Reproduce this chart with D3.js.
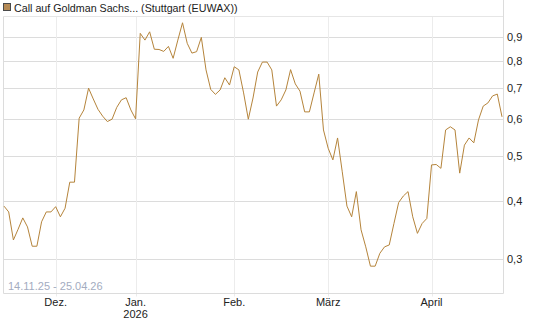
<!DOCTYPE html>
<html>
<head>
<meta charset="utf-8">
<script src="https://cdn.jsdelivr.net/npm/d3@7/dist/d3.min.js"></script>
<style>
  html, body { margin: 0; padding: 0; background: #fff; }
  svg { display: block; font-family: "Liberation Sans", Arial, sans-serif; }
</style>
</head>
<body>
<svg id="chart" width="545" height="327"></svg>
<script>
// ---- data ----
const title = "Call auf Goldman Sachs... (Stuttgart (EUWAX))";
const rangeLabel = "14.11.25 - 25.04.26";
const startDate = "2025-11-14";
const endDate = "2026-04-24";
const holidays = ["2025-12-24","2025-12-25","2025-12-26","2025-12-29","2025-12-30","2025-12-31","2026-01-01","2026-04-03","2026-04-06"];
const monthLabels = ["Dez.", "Jan.", "Feb.", "März", "April"];
const yearLabel = { month: "Jan.", text: "2026" };
const yTicks = [0.3, 0.4, 0.5, 0.6, 0.7, 0.8, 0.9];
const values = [
  0.390, 0.379, 0.330, 0.348, 0.368, 0.352, 0.320, 0.320, 0.361, 0.379,
  0.379, 0.389, 0.370, 0.386, 0.439, 0.439, 0.602, 0.627, 0.698, 0.662,
  0.629, 0.608, 0.592, 0.599, 0.635, 0.659, 0.666, 0.627, 0.600, 0.915,
  0.885, 0.922, 0.846, 0.845, 0.837, 0.858, 0.809, 0.885, 0.964, 0.871,
  0.830, 0.836, 0.897, 0.764, 0.694, 0.677, 0.692, 0.735, 0.709, 0.776,
  0.764, 0.682, 0.599, 0.665, 0.756, 0.794, 0.794, 0.764, 0.639, 0.659,
  0.692, 0.765, 0.713, 0.688, 0.621, 0.621, 0.682, 0.748, 0.568, 0.519,
  0.490, 0.546, 0.462, 0.390, 0.370, 0.419, 0.347, 0.319, 0.290, 0.290,
  0.309, 0.319, 0.322, 0.358, 0.397, 0.410, 0.419, 0.370, 0.341, 0.358,
  0.367, 0.478, 0.479, 0.470, 0.568, 0.577, 0.568, 0.459, 0.527, 0.546,
  0.533, 0.597, 0.639, 0.649, 0.672, 0.678, 0.606
];

// ---- trading-day calendar ----
const parse = d3.timeParse("%Y-%m-%d");
const fmt = d3.timeFormat("%Y-%m-%d");
const hol = new Set(holidays);
const dates = d3.timeDay.range(parse(startDate), d3.timeDay.offset(parse(endDate), 1))
  .filter(d => d.getDay() !== 0 && d.getDay() !== 6 && !hol.has(fmt(d)));
const data = values.map((v, i) => ({ i, date: dates[i], v }));

// month starts (first trading day of each new month)
const monthTicks = [];
data.forEach((d, k) => {
  if (k > 0 && d.date.getMonth() !== data[k - 1].date.getMonth()) monthTicks.push(d.i);
});

// ---- layout ----
const frame = { left: 3.5, right: 503.5, top: 16.5, bottom: 293.5 };
const svg = d3.select("#chart");

const x = d3.scaleLinear().domain([0, values.length - 1]).range([4, 502]);
const y = d3.scaleLog().domain([0.3, 0.9]).range([259.3, 36.7]);

// title / legend
svg.append("rect").attr("x", 3.5).attr("y", 3.5).attr("width", 7).attr("height", 7)
  .attr("fill", "#b58a55").attr("stroke", "#4a4a4a").attr("stroke-width", 1);
svg.append("text").attr("x", 14).attr("y", 12).attr("font-size", 10.7).attr("fill", "#222").text(title);

// horizontal grid
svg.append("g").selectAll("line").data(yTicks).join("line")
  .attr("x1", frame.left).attr("x2", frame.right)
  .attr("y1", d => Math.round(y(d)) + 0.5).attr("y2", d => Math.round(y(d)) + 0.5)
  .attr("stroke", "#dcdcdc").attr("stroke-width", 1);

// vertical grid at month starts
svg.append("g").selectAll("line").data(monthTicks).join("line")
  .attr("x1", d => Math.round(x(d)) + 0.5).attr("x2", d => Math.round(x(d)) + 0.5)
  .attr("y1", frame.top).attr("y2", frame.bottom + 3)
  .attr("stroke", "#ececec").attr("stroke-width", 1);

// frame
svg.append("line").attr("x1", frame.left).attr("x2", frame.right).attr("y1", frame.top).attr("y2", frame.top)
  .attr("stroke", "#e6e6e6");
svg.append("line").attr("x1", frame.left).attr("x2", frame.left).attr("y1", frame.top).attr("y2", frame.bottom)
  .attr("stroke", "#dcdcdc");
svg.append("line").attr("x1", frame.right).attr("x2", frame.right).attr("y1", 0).attr("y2", frame.bottom)
  .attr("stroke", "#dcdcdc");
svg.append("line").attr("x1", frame.left).attr("x2", frame.right).attr("y1", frame.bottom).attr("y2", frame.bottom)
  .attr("stroke", "#dcdcdc");

// range label
svg.append("text").attr("x", 8).attr("y", 290).attr("font-size", 11).attr("fill", "#a3acbf").text(rangeLabel);

// x labels
svg.append("g").selectAll("text").data(monthTicks).join("text")
  .attr("x", d => x(d)).attr("y", 306).attr("text-anchor", "middle")
  .attr("font-size", 11).attr("fill", "#222")
  .text((d, k) => monthLabels[k]);
const yearIdx = monthTicks[monthLabels.indexOf(yearLabel.month)];
svg.append("text").attr("x", x(yearIdx)).attr("y", 318).attr("text-anchor", "middle")
  .attr("font-size", 11).attr("fill", "#222").text(yearLabel.text);

// y labels
const fmtY = v => d3.format(".1f")(v).replace(".", ",");
svg.append("g").selectAll("text").data(yTicks).join("text")
  .attr("x", 507).attr("y", d => y(d) + 4).attr("font-size", 11).attr("fill", "#222")
  .text(fmtY);

// line
const line = d3.line().x(d => x(d.i)).y(d => y(d.v));
svg.append("path").datum(data).attr("d", line)
  .attr("fill", "none").attr("stroke", "#b5843b").attr("stroke-width", 1)
  .attr("stroke-linejoin", "round");
</script>
</body>
</html>
